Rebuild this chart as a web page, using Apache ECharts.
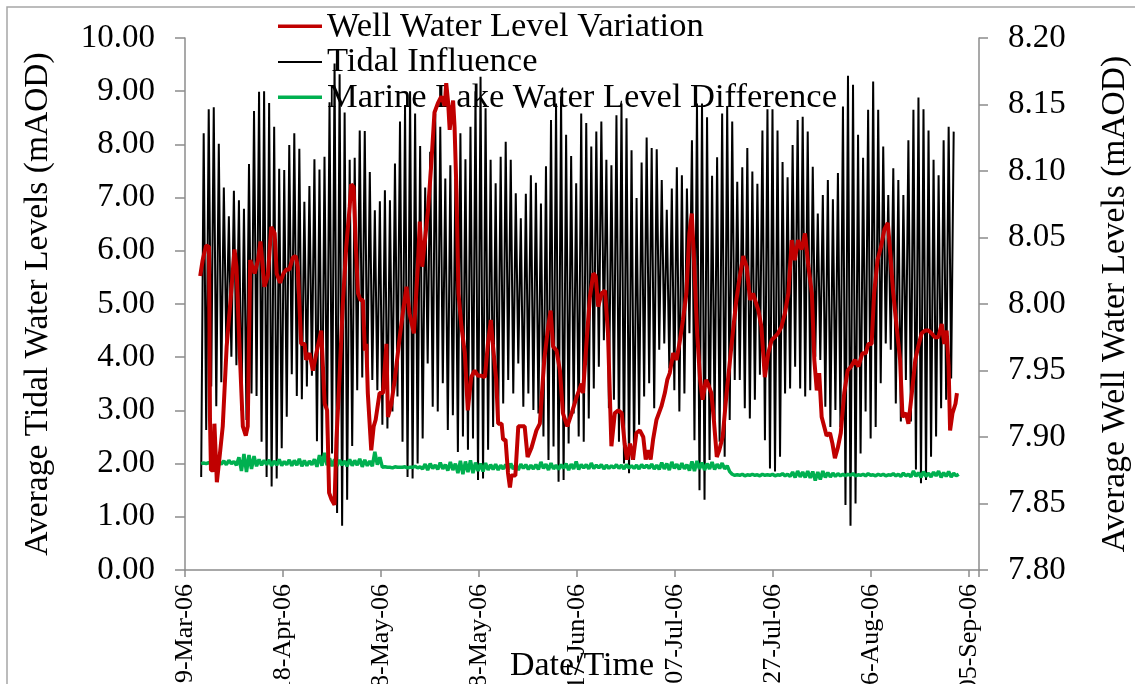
<!DOCTYPE html>
<html>
<head>
<meta charset="utf-8">
<script src="https://cdn.jsdelivr.net/npm/echarts@6/dist/echarts.min.js"></script>
<style>
  html, body { margin: 0; padding: 0; background: #fff; }
  #chart { width: 1135px; height: 684px; }
</style>
</head>
<body>
<div id="chart"></div>
<script>
// x values are days counted from 29-Mar-06
const months = ["Jan", "Feb", "Mar", "Apr", "May", "Jun", "Jul", "Aug", "Sep", "Oct", "Nov", "Dec"];

// tidal readings, one low and one high per tide
const tidalStart = 3.3;
const tidalStep = 1.027;
const tidalLow = [
  1.75, 2.63, 3.45, 3.08, 3.53, 4.20, 4.01, 3.85, 3.00, 2.82, 3.32, 3.27, 2.41, 1.75, 1.57, 1.72, 2.29, 2.88, 3.68, 3.27,
  3.21, 3.45, 3.65, 2.42, 2.13, 2.46, 2.19, 1.07, 0.83, 1.32, 2.33, 3.38, 3.62, 3.41, 3.57, 3.38,
  2.73, 2.66, 2.98, 3.26, 2.41, 1.75, 1.72, 2.00, 2.47, 3.88, 3.07, 2.98, 3.51, 2.63, 2.91, 2.22, 2.51, 2.26, 2.47, 1.69,
  1.72, 2.26, 2.69, 2.73, 3.13, 3.57, 3.32, 3.88, 3.07, 3.32, 3.01, 2.94, 2.51, 2.07, 2.32, 1.66, 1.69, 2.38, 2.94,
  2.51, 2.41, 2.85, 3.41, 3.82, 4.32, 3.04, 3.20, 2.41, 2.00, 1.82, 2.07, 2.73, 3.26, 3.51, 3.04, 4.14, 4.26, 3.79, 3.38,
  2.98, 3.32, 4.45, 2.44, 1.50, 1.32, 2.07, 2.82, 2.41, 2.13, 2.82, 3.57, 3.57, 3.04, 2.85, 3.20, 3.67, 2.44, 1.91,
  1.85, 2.13, 3.32, 3.41, 3.82, 3.41, 3.26, 3.38, 4.01, 3.95, 3.07, 2.69, 3.01, 2.69, 1.22, 0.83, 1.25, 2.19, 2.98, 2.47,
  2.69, 3.51, 4.26, 4.14, 3.13, 2.79, 3.57, 2.79, 1.89, 1.63, 1.69, 2.13, 2.51, 3.04, 3.20, 3.60
];
const tidalHigh = [
  8.21, 8.66, 8.70, 8.01, 7.19, 6.65, 7.13, 6.95, 6.79, 7.63, 8.63, 8.99, 9.00, 8.78, 8.33, 7.54, 7.52, 7.99, 8.21, 7.92,
  6.92, 7.22, 7.72, 7.53, 7.77, 8.79, 9.52, 9.32, 8.60, 7.71, 7.75, 8.26, 8.25, 7.48, 6.76, 6.93,
  7.14, 6.95, 7.64, 8.43, 8.74, 9.00, 8.58, 7.97, 7.19, 7.86, 8.58, 8.33, 7.36, 7.61, 7.36, 8.21, 7.72, 8.33, 9.00, 9.27,
  8.68, 7.71, 7.27, 7.77, 8.05, 7.71, 7.08, 6.61, 7.07, 7.42, 7.28, 6.89, 7.59, 8.46, 8.77, 8.90, 8.18, 7.78, 7.27,
  8.58, 8.40, 7.96, 8.24, 8.43, 7.71, 7.61, 8.55, 8.77, 8.49, 7.89, 6.99, 7.66, 8.13, 7.93, 7.91, 7.33, 6.77, 7.17, 7.57,
  7.42, 7.17, 8.08, 8.77, 8.77, 8.51, 7.41, 7.76, 8.58, 8.71, 8.43, 7.30, 7.57, 7.93, 7.49, 7.26, 8.26, 8.66, 8.66, 8.26,
  7.67, 7.38, 7.99, 8.46, 8.52, 8.24, 7.58, 6.70, 7.05, 7.33, 6.97, 7.46, 8.71, 9.29, 9.12, 8.18, 7.75, 8.65, 9.18, 8.65,
  7.96, 7.05, 7.55, 7.33, 7.05, 8.08, 8.65, 8.88, 8.66, 8.26, 7.71, 7.42, 8.08, 8.33, 8.24, 8.05
];

// marine lake difference, read at the same low / high times
const marineLake = [
  2.00, 2.01, 2.00, 2.02, 1.99, 2.10, 2.02, 2.03, 1.99, 2.05, 1.98, 2.06, 2.00, 2.04, 1.97, 2.12, 1.86, 2.18,
  1.84, 2.16, 1.90, 2.14, 1.95, 2.08, 1.97, 2.06, 1.98, 2.07, 1.96, 2.05,
  1.97, 2.08, 1.96, 2.04, 1.98, 2.07, 1.96, 2.06, 1.97, 2.09, 1.95, 2.06, 1.96, 2.05, 1.98, 2.08,
  1.94, 2.16, 1.96, 2.20, 1.97, 2.10, 1.95, 2.08,
  1.96, 2.07, 1.97, 2.05, 1.95, 2.08, 1.96, 2.06, 1.97, 2.09, 1.94, 2.07, 1.96, 2.05,
  1.95, 2.22, 1.98, 2.12,
  1.93, 1.94, 1.93, 1.93, 1.92, 1.94, 1.93, 1.93, 1.93, 1.94, 1.92, 1.93, 1.93, 1.95, 1.92, 1.94,
  1.90, 1.99, 1.88, 2.00, 1.91, 1.97, 1.89, 2.02, 1.90, 1.98, 1.87, 2.03, 1.88, 2.00,
  1.82, 2.05, 1.80, 2.04, 1.84, 2.06, 1.82, 2.02, 1.86, 2.00, 1.85, 2.01,
  1.88, 1.98, 1.89, 1.99, 1.88, 1.97, 1.90, 1.98, 1.89, 2.00, 1.90, 1.97, 1.88, 1.99, 1.91, 1.98, 1.89, 1.97,
  1.90, 1.98, 1.89, 2.03, 1.91, 1.99, 1.88, 2.01, 1.90, 1.97, 1.89, 1.98, 1.91, 2.00, 1.88, 1.99, 1.90, 2.04, 1.89, 1.98,
  1.92, 1.98, 1.90, 2.01, 1.91, 1.97, 1.92, 1.98, 1.90, 1.97, 1.91, 1.96, 1.92, 1.98, 1.91, 1.97, 1.90, 1.98, 1.92, 1.96,
  1.91, 1.97, 1.90, 1.98, 1.92, 1.97, 1.91, 1.99, 1.90, 1.97,
  1.89, 2.02, 1.90, 2.00, 1.88, 2.03, 1.91, 1.99, 1.89, 2.01, 1.90, 1.98, 1.87, 2.04, 1.86, 2.05, 1.90, 2.02, 1.88, 2.00,
  1.90, 2.03, 1.89, 1.99, 1.91, 2.01, 1.90, 1.96,
  1.85, 1.80,
  1.78, 1.79, 1.78, 1.80, 1.77, 1.79, 1.78, 1.80, 1.78, 1.79, 1.77, 1.80, 1.78, 1.79, 1.78, 1.80, 1.77, 1.79, 1.78, 1.81,
  1.77, 1.80, 1.76, 1.84, 1.74, 1.86, 1.75, 1.84,
  1.74, 1.86, 1.73, 1.85, 1.68, 1.84, 1.70, 1.86, 1.74, 1.83, 1.75, 1.82, 1.76, 1.81, 1.77, 1.80,
  1.77, 1.80, 1.78, 1.81, 1.77, 1.79, 1.78, 1.80, 1.77, 1.81, 1.78, 1.79, 1.77, 1.80, 1.78, 1.80, 1.77, 1.79, 1.78, 1.81,
  1.77, 1.80, 1.76, 1.82, 1.77, 1.80,
  1.75, 1.86, 1.76, 1.83, 1.74, 1.85, 1.76, 1.82, 1.75, 1.84, 1.77, 1.86, 1.74, 1.83, 1.76, 1.85, 1.75, 1.82, 1.77, 1.80
];

// well water level (right axis)
const wellDays = [
  3.1, 3.6, 4.3, 4.9, 5.1, 5.3, 5.8, 6.0, 6.5, 7.0, 7.7, 8.5, 9.4, 10.1, 10.5, 11.1, 11.8, 12.4, 12.8, 13.3,
  14.2, 14.9, 15.4, 16.2, 16.9, 17.6, 18.3, 18.7, 19.4, 20.1, 20.7, 21.3, 22.0, 22.6, 23.0, 23.7, 24.4, 24.7, 25.4, 26.1,
  26.8, 27.8, 28.5, 29.0, 29.4, 29.9, 30.5, 30.9, 31.5, 32.2, 32.9, 33.6, 33.9, 34.4, 34.8, 35.3, 35.8, 36.3, 36.7, 37.0,
  37.3, 38.0, 38.5, 38.9, 39.7, 40.4, 41.1,
  41.4, 42.1, 42.8, 43.8, 44.5, 45.2, 45.8, 46.7, 47.5, 47.9, 48.4, 48.9, 49.6, 50.3, 50.9, 51.6, 52.3, 53.0, 53.3, 53.7,
  54.0, 54.7, 55.0, 55.4, 55.8, 56.4, 57.1, 57.7, 58.4, 59.1, 59.8, 60.5, 61.2, 61.8, 62.4, 62.8, 63.5, 63.9, 64.6, 64.9,
  65.4, 65.9, 66.3, 66.6, 67.4, 68.0, 68.5, 69.3, 69.9, 70.7, 71.7, 72.4, 73.3, 74.1, 74.6, 75.1, 75.8, 76.5, 77.1, 78.0,
  78.9, 79.9, 80.9,
  81.2, 81.9, 82.6, 83.3, 83.8, 84.3, 85.0, 85.7, 86.3, 87.0, 87.7, 88.4, 89.1, 89.7, 90.2, 90.8, 91.4, 92.1, 92.8, 93.5,
  94.0, 94.5, 95.0, 95.5, 96.2, 97.2, 97.9, 98.4, 98.9, 99.6, 100.3, 101.0, 101.6, 102.3, 102.9, 103.4, 103.8, 104.5, 105.1, 105.6,
  106.3, 106.7, 107.4, 107.9, 108.5, 109.0, 109.7, 110.5, 111.2, 111.9, 112.5, 113.2, 113.9, 114.6, 115.3, 115.9, 117.0, 117.6, 118.3, 119.0,
  119.7, 120.3, 121.0,
  121.7, 122.4, 123.1, 123.8, 124.4, 125.1, 125.8, 126.5, 127.2, 127.9, 128.4, 128.9, 129.4, 129.9, 130.4, 130.9, 131.6, 132.1, 132.6, 133.2,
  133.8, 134.5, 135.2, 135.9, 136.7, 137.4, 138.2, 138.9, 139.4, 140.1, 140.6, 141.3, 142.0, 142.7, 143.4, 143.8, 144.5, 145.2, 145.9, 146.4,
  147.1, 147.6, 148.3, 149.0, 149.6, 150.3, 151.0, 151.7, 152.3, 153.0, 153.7, 154.4, 154.9, 155.4, 155.8, 156.1, 156.6, 157.2, 157.5
];
const wellLevel = [
  8.021, 8.033, 8.044, 8.043, 7.913, 7.875, 7.875, 7.910, 7.866, 7.883, 7.908, 7.968, 8.008, 8.041, 8.028, 7.970, 7.908, 7.901, 7.908, 8.033,
  8.023, 8.033, 8.047, 8.013, 8.021, 8.058, 8.053, 8.023, 8.016, 8.023, 8.026, 8.026, 8.035, 8.036, 8.028, 7.970, 7.970, 7.958, 7.963, 7.950,
  7.963, 7.980, 7.925, 7.920, 7.858, 7.853, 7.849, 7.898, 7.943, 8.000, 8.043, 8.073, 8.090, 8.088, 8.048, 8.008, 8.003, 8.003, 7.965, 7.970,
  7.933, 7.890, 7.908, 7.913, 7.933, 7.933, 7.970,
  7.915, 7.925, 7.943, 7.975, 7.995, 8.013, 7.993, 7.978, 8.028, 8.062, 8.028, 8.046, 8.071, 8.108, 8.144, 8.151, 8.156, 8.149, 8.166, 8.151,
  8.131, 8.153, 8.133, 8.083, 8.008, 7.983, 7.963, 7.920, 7.945, 7.950, 7.946, 7.946, 7.945, 7.970, 7.988, 7.970, 7.943, 7.910, 7.910, 7.898,
  7.898, 7.873, 7.862, 7.871, 7.871, 7.908, 7.908, 7.908, 7.885, 7.892, 7.905, 7.910, 7.958, 7.983, 7.995, 7.968, 7.965, 7.950, 7.918, 7.908,
  7.918, 7.930, 7.940,
  7.933, 7.970, 8.005, 8.023, 8.021, 7.998, 8.008, 8.010, 7.978, 7.893, 7.918, 7.920, 7.918, 7.895, 7.883, 7.895, 7.883, 7.903, 7.905, 7.900,
  7.883, 7.890, 7.883, 7.898, 7.913, 7.923, 7.933, 7.943, 7.948, 7.963, 7.958, 7.973, 7.988, 8.008, 8.053, 8.068, 8.038, 7.978, 7.943, 7.928,
  7.943, 7.940, 7.933, 7.913, 7.885, 7.890, 7.900, 7.933, 7.958, 7.983, 8.003, 8.021, 8.036, 8.028, 8.003, 8.008, 7.995, 7.983, 7.945, 7.963,
  7.973, 7.975, 7.978,
  7.983, 7.993, 8.008, 8.048, 8.033, 8.048, 8.041, 8.053, 8.028, 8.008, 7.958, 7.935, 7.948, 7.915, 7.908, 7.901, 7.903, 7.895, 7.884, 7.892,
  7.903, 7.933, 7.950, 7.953, 7.958, 7.953, 7.963, 7.963, 7.970, 7.970, 8.008, 8.033, 8.043, 8.056, 8.061, 8.043, 8.008, 7.983, 7.958, 7.915,
  7.918, 7.910, 7.933, 7.958, 7.968, 7.978, 7.980, 7.980, 7.978, 7.975, 7.975, 7.985, 7.970, 7.980, 7.953, 7.905, 7.918, 7.925, 7.933
];

const font = "Liberation Serif";
const axisGrey = "#8c8c8c";

function dayLabel(v) {
  if (Math.abs(v % 20) > 1e-6) return "";
  const d = new Date(Date.UTC(2006, 2, 29) + v * 86400000);
  const dd = String(d.getUTCDate()).padStart(2, "0");
  return dd + "-" + months[d.getUTCMonth()] + "-06";
}

const tidalData = [];
const lakeData = [];
for (let i = 0; i < tidalHigh.length; i++) {
  const t = tidalStart + i * tidalStep;
  tidalData.push([t, tidalLow[i]], [t + tidalStep / 2, tidalHigh[i]]);
  lakeData.push([t, marineLake[2 * i]], [t + tidalStep / 2, marineLake[2 * i + 1]]);
}
const wellData = wellDays.map((d, i) => [d, wellLevel[i]]);

// legend icons: thin bar inside a fixed 44x12 box
const thickIcon = "path://M0,0h44v0h-44z M0,4h44v3.5h-44z M0,12h44v0h-44z";
const thinIcon = "path://M0,0h44v0h-44z M0,5h44v2h-44z M0,12h44v0h-44z";

var myChart = echarts.init(document.getElementById("chart"), null, { renderer: "canvas" });
myChart.setOption({
  animation: false,
  backgroundColor: "#ffffff",
  graphic: [
    {
      type: "rect",
      silent: true,
      z: -10,
      shape: { x: 7, y: 7, width: 1200, height: 800 },
      style: { fill: "none", stroke: "#a6a6a6", lineWidth: 1.5 },
    },
  ],
  legend: {
    orient: "vertical",
    left: 278,
    top: 9,
    itemWidth: 44,
    itemHeight: 12,
    itemGap: 0.5,
    padding: 0,
    selectedMode: false,
    itemStyle: { borderWidth: 0 },
    textStyle: { fontFamily: font, fontSize: 34.5, color: "#000" },
    data: [
      { name: "Well Water Level Variation", icon: thickIcon },
      { name: "Tidal Influence", icon: thinIcon },
      { name: "Marine Lake Water Level Difference", icon: thickIcon },
    ],
  },
  grid: {
    left: 185,
    right: 156,
    top: 38,
    bottom: 114,
    containLabel: false,
    outerBoundsMode: "none",
  },
  xAxis: {
    type: "value",
    min: 0,
    max: 162,
    interval: 20,
    name: "Date/Time",
    nameLocation: "middle",
    nameGap: 79,
    nameMoveOverlap: false,
    nameTextStyle: { fontFamily: font, fontSize: 34, color: "#000" },
    axisLine: { show: true, onZero: false, lineStyle: { color: axisGrey, width: 1.5 } },
    axisTick: { show: true, length: 7, lineStyle: { color: axisGrey, width: 1.5 } },
    splitLine: { show: false },
    axisLabel: {
      rotate: 90,
      margin: 14,
      fontFamily: font,
      fontSize: 26,
      color: "#000",
      formatter: dayLabel,
    },
  },
  yAxis: [
    {
      type: "value",
      position: "left",
      min: 0,
      max: 10,
      interval: 1,
      name: "Average Tidal Water Levels (mAOD)",
      nameLocation: "middle",
      nameRotate: 90,
      nameGap: 130,
      nameMoveOverlap: false,
      nameTextStyle: { fontFamily: font, fontSize: 33.5, color: "#000" },
      axisLine: { show: true, lineStyle: { color: axisGrey, width: 1.5 } },
      axisTick: { show: true, length: 10, lineStyle: { color: axisGrey, width: 1.5 } },
      splitLine: { show: false },
      axisLabel: {
        margin: 30,
        fontFamily: font,
        fontSize: 33,
        color: "#000",
        formatter: (v) => v.toFixed(2),
      },
    },
    {
      type: "value",
      position: "right",
      min: 7.8,
      max: 8.2,
      interval: 0.05,
      name: "Average Well Water Levels (mAOD)",
      nameLocation: "middle",
      nameRotate: 90,
      nameGap: 119,
      nameMoveOverlap: false,
      nameTextStyle: { fontFamily: font, fontSize: 33.5, color: "#000" },
      axisLine: { show: true, lineStyle: { color: axisGrey, width: 1.5 } },
      axisTick: { show: true, length: 9, lineStyle: { color: axisGrey, width: 1.5 } },
      splitLine: { show: false },
      axisLabel: {
        margin: 29,
        fontFamily: font,
        fontSize: 33,
        color: "#000",
        formatter: (v) => v.toFixed(2),
      },
    },
  ],
  series: [
    {
      name: "Tidal Influence",
      type: "line",
      yAxisIndex: 0,
      data: tidalData,
      symbol: "none",
      z: 2,
      color: "#000000",
      lineStyle: { color: "#000000", width: 2 },
    },
    {
      name: "Marine Lake Water Level Difference",
      type: "line",
      yAxisIndex: 0,
      data: lakeData,
      symbol: "none",
      z: 3,
      color: "#00b050",
      lineStyle: { color: "#00b050", width: 3.5 },
    },
    {
      name: "Well Water Level Variation",
      type: "line",
      yAxisIndex: 1,
      data: wellData,
      symbol: "none",
      z: 4,
      color: "#c00000",
      lineStyle: { color: "#c00000", width: 4 },
    },
  ],
});
</script>
</body>
</html>
